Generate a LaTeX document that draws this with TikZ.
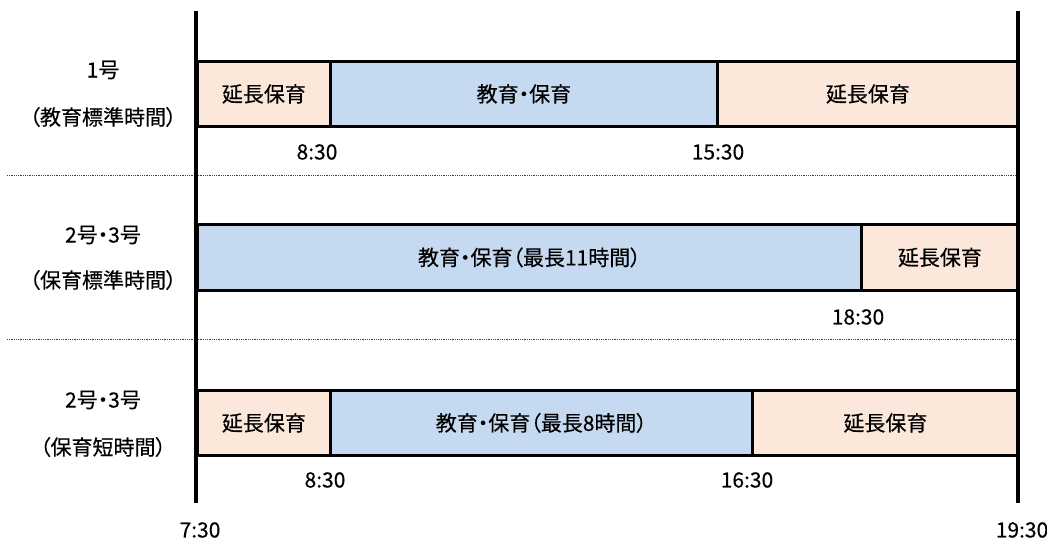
\documentclass[tikz,border=0pt]{standalone}
\usepackage{fontspec}
\setmainfont[RawFeature=+palt, FakeBold=0.3]{Noto Sans CJK JP}
\definecolor{extcol}{RGB}{252,232,218}
\definecolor{educol}{RGB}{197,217,240}
\tikzset{
  txt/.style={font=\fontsize{21}{25}\selectfont, inner sep=0pt},
  bar/.style={txt, draw=black, line width=2.8pt, minimum height=65pt, anchor=north west},
  extbox/.style={bar, fill=extcol},
  edubox/.style={bar, fill=educol},
  axisline/.style={line width=4pt},
  sepline/.style={draw=black!75, line width=1pt, dash pattern=on 1pt off 0.8pt},
}
\begin{document}
\begin{tikzpicture}[x=1pt, y=-1pt]
\useasboundingbox (0,0) rectangle (1047,538);
% separators
\coordinate (s1a) at (7,175);  \coordinate (s1b) at (1017,175);
\coordinate (s2a) at (7,339);  \coordinate (s2b) at (1017,339);
\draw[sepline] (s1a) -- (s1b);
\draw[sepline] (s2a) -- (s2b);
% row labels
\node[txt] (r1a) at (103,70) {1号};
\node[txt] (r1b) at (103,117) {（教育標準時間）};
\node[txt] (r2a) at (103,235) {2号・3号};
\node[txt] (r2b) at (103,280) {（保育標準時間）};
\node[txt] (r3a) at (103,400) {2号・3号};
\node[txt] (r3b) at (103,447) {（保育短時間）};
% row 1
\node[extbox, minimum width=133pt] (b11) at (196,60) {延長保育};
\node[edubox, minimum width=387pt] (b12) at (329,60) {教育・保育};
\node[extbox, minimum width=301pt] (b13) at (716,60) {延長保育};
\node[txt] (t11) at (317,152) {8:30};
\node[txt] (t12) at (718,152) {15:30};
% row 2
\node[edubox, minimum width=664pt, minimum height=66pt] (b21) at (196,223) {教育・保育（最長11時間）};
\node[extbox, minimum width=157pt, minimum height=66pt] (b22) at (860,223) {延長保育};
\node[txt] (t21) at (858,317) {18:30};
% row 3
\node[extbox, minimum width=133pt] (b31) at (196,389) {延長保育};
\node[edubox, minimum width=422pt] (b32) at (329,389) {教育・保育（最長8時間）};
\node[extbox, minimum width=266pt] (b33) at (751,389) {延長保育};
\node[txt] (t31) at (325,480) {8:30};
\node[txt] (t32) at (747,480) {16:30};
% axis
\coordinate (lt) at (196,11); \coordinate (lb) at (196,503);
\coordinate (rt) at (1017.5,11); \coordinate (rb) at (1017.5,503);
\draw[axisline] (lt) -- (lb);
\draw[axisline] (rt) -- (rb);
\node[txt] (t0) at (200,530) {7:30};
\node[txt] (t1) at (1022,530) {19:30};
\end{tikzpicture}
\end{document}
